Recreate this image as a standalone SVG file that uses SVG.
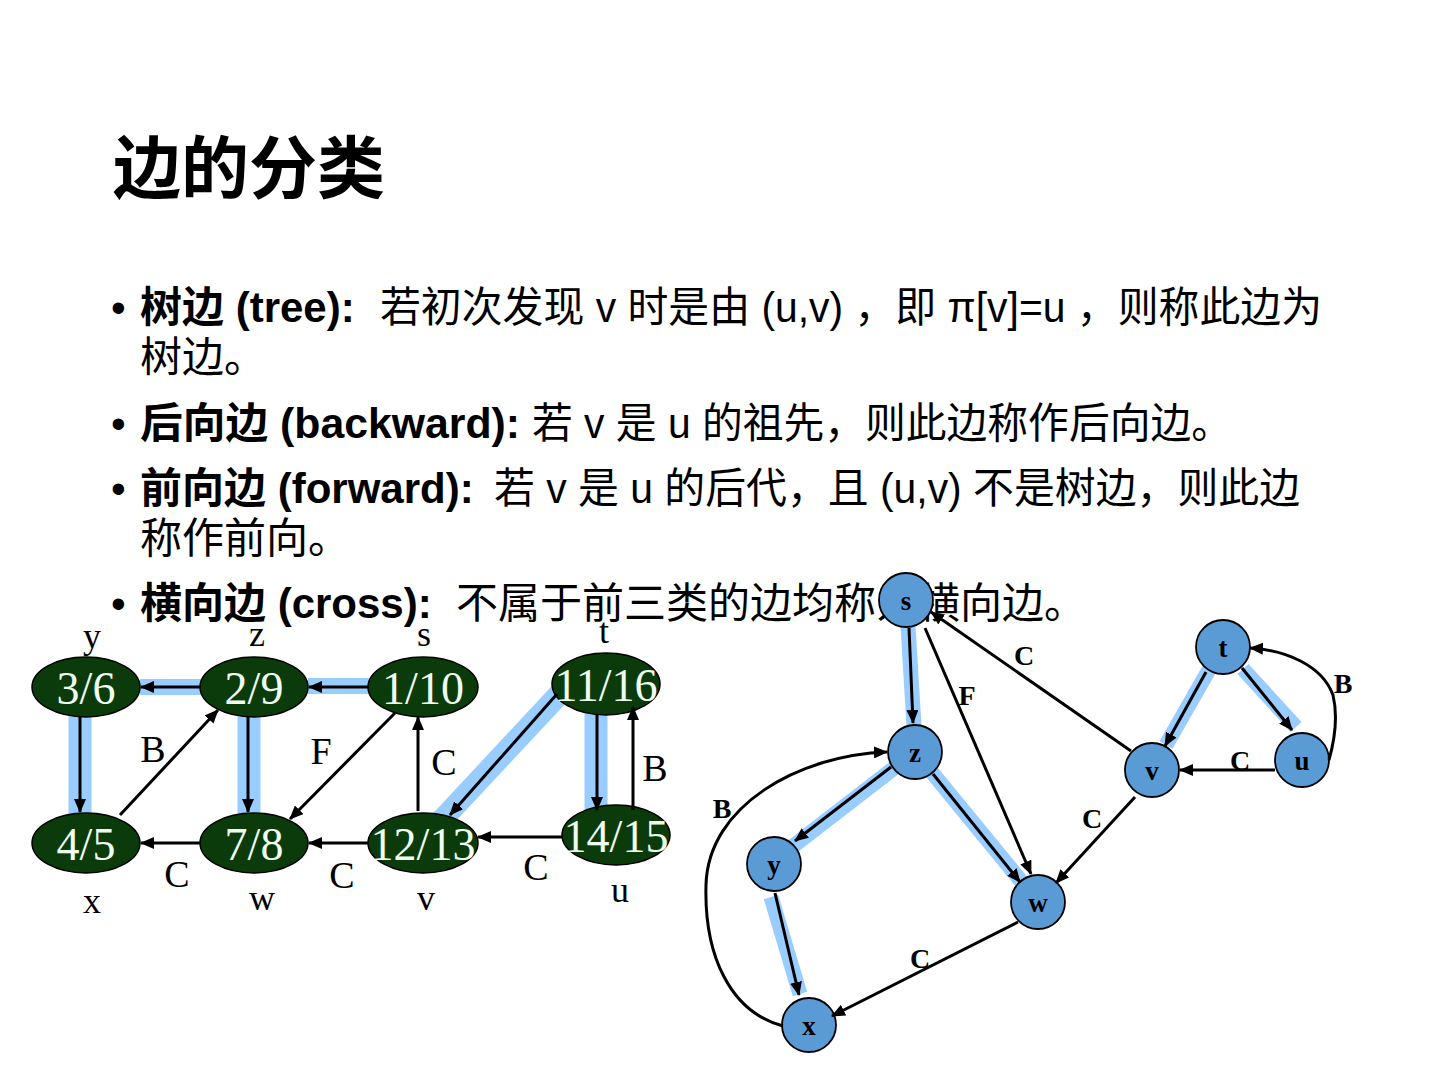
<svg xmlns="http://www.w3.org/2000/svg" width="1440" height="1080" viewBox="0 0 1440 1080">
<defs>
<style>
.title{font-family:"Liberation Sans","Noto Sans CJK SC",sans-serif;font-size:68px;font-weight:bold;fill:#000}
.body{font-family:"Liberation Sans","Noto Sans CJK SC",sans-serif;font-size:42px;fill:#000}
.b{font-weight:bold}
.hl{stroke:#99CCFF;fill:none;stroke-linecap:butt}
.e{stroke:#000;stroke-width:3;fill:none;marker-end:url(#ah)}
.el{fill:#0B3B0B;stroke:#000;stroke-width:1.5}
.et{font-family:"Liberation Serif",serif;font-size:46px;fill:#F0FFF0;text-anchor:middle}
.vl{font-family:"Liberation Serif",serif;font-size:36px;fill:#000;text-anchor:middle}
.lb{font-family:"Liberation Serif",serif;font-size:38px;fill:#000;text-anchor:middle}
.cn{fill:#5B9BD5;stroke:#000;stroke-width:1.8}
.ct{font-family:"Liberation Serif",serif;font-size:27px;font-weight:bold;fill:#000;text-anchor:middle}
.rl{font-family:"Liberation Serif",serif;font-size:28px;font-weight:bold;fill:#000;text-anchor:middle}
</style>
<marker id="ah" markerWidth="14" markerHeight="12" refX="13" refY="6" orient="auto" markerUnits="userSpaceOnUse">
<path d="M0,0 L14,6 L0,12 z" fill="#000"/>
</marker>
</defs>
<rect width="1440" height="1080" fill="#fff"/>

<g id="text">
<text class="title" x="113" y="193">边的分类</text>
<text class="body" x="111" y="322">•</text>
<text class="body b" x="140" y="322">树边 (tree):</text>
<text class="body" x="380" y="322" textLength="942" lengthAdjust="spacingAndGlyphs">若初次发现 v 时是由 (u,v) ，即 π[v]=u ，则称此边为</text>
<text class="body" x="140" y="372">树边。</text>
<text class="body" x="111" y="438">•</text>
<text class="body b" x="140" y="438" textLength="380" lengthAdjust="spacingAndGlyphs">后向边 (backward):</text>
<text class="body" x="532" y="438" textLength="700" lengthAdjust="spacingAndGlyphs">若 v 是 u 的祖先，则此边称作后向边。</text>
<text class="body" x="111" y="503">•</text>
<text class="body b" x="140" y="503">前向边 (forward):</text>
<text class="body" x="494" y="503" textLength="806" lengthAdjust="spacingAndGlyphs">若 v 是 u 的后代，且 (u,v) 不是树边，则此边</text>
<text class="body" x="140" y="553">称作前向。</text>
<text class="body" x="111" y="618">•</text>
<text class="body b" x="140" y="618">横向边 (cross):</text>
<text class="body" x="456" y="618">不属于前三类的边均称为横向边。</text>
</g>

<!-- Left graph -->
<g id="left-highlights">
<line class="hl" x1="140" y1="687" x2="202" y2="687" stroke-width="16"/>
<line class="hl" x1="308" y1="686" x2="370" y2="686" stroke-width="16"/>
<line class="hl" x1="80" y1="712" x2="80" y2="816" stroke-width="23"/>
<line class="hl" x1="249" y1="712" x2="249" y2="816" stroke-width="23"/>
<line class="hl" x1="565" y1="688" x2="440" y2="822" stroke-width="22"/>
<line class="hl" x1="596" y1="710" x2="596" y2="810" stroke-width="23"/>
</g>

<g id="node-y-left"><ellipse class="el" cx="86" cy="687" rx="54" ry="30"/><text class="et" x="86" y="704">3/6</text><text class="vl" x="92" y="648">y</text></g>
<g id="node-z-left"><ellipse class="el" cx="254" cy="687" rx="54" ry="30"/><text class="et" x="254" y="704">2/9</text><text class="vl" x="257" y="646">z</text></g>
<g id="node-s-left"><ellipse class="el" cx="423" cy="687" rx="55" ry="30"/><text class="et" x="423" y="704">1/10</text><text class="vl" x="424" y="646">s</text></g>
<g id="node-t-left"><ellipse class="el" cx="606" cy="684" rx="54" ry="31"/><text class="et" x="606" y="701">11/16</text><text class="vl" x="604" y="643">t</text></g>
<g id="node-x-left"><ellipse class="el" cx="86" cy="843" rx="54" ry="30"/><text class="et" x="86" y="860">4/5</text><text class="vl" x="92" y="913">x</text></g>
<g id="node-w-left"><ellipse class="el" cx="254" cy="843" rx="54" ry="30"/><text class="et" x="254" y="860">7/8</text><text class="vl" x="262" y="910">w</text></g>
<g id="node-v-left"><ellipse class="el" cx="423" cy="843" rx="55" ry="30"/><text class="et" x="423" y="860">12/13</text><text class="vl" x="426" y="910">v</text></g>
<g id="node-u-left"><ellipse class="el" cx="616" cy="835" rx="54" ry="30"/><text class="et" x="616" y="852">14/15</text><text class="vl" x="620" y="902">u</text></g>

<g id="connectors-left">
<line class="e" x1="200" y1="687" x2="141" y2="687"/>
<line class="e" x1="368" y1="687" x2="309" y2="687"/>
<line class="e" x1="80" y1="717" x2="80" y2="812"/>
<line class="e" x1="248" y1="717" x2="248" y2="812"/>
<line class="e" x1="120" y1="815" x2="218" y2="710"/>
<line class="e" x1="395" y1="713" x2="290" y2="819"/>
<line class="e" x1="200" y1="843" x2="141" y2="843"/>
<line class="e" x1="368" y1="843" x2="309" y2="843"/>
<line class="e" x1="418" y1="811" x2="418" y2="717"/>
<line class="e" x1="557" y1="694" x2="450" y2="815"/>
<line class="e" x1="597" y1="715" x2="597" y2="810"/>
<line class="e" x1="633" y1="810" x2="633" y2="707"/>
<line class="e" x1="562" y1="837" x2="478" y2="837"/>
<text class="lb" x="153" y="762">B</text>
<text class="lb" x="321" y="764">F</text>
<text class="lb" x="444" y="775">C</text>
<text class="lb" x="655" y="781">B</text>
<text class="lb" x="177" y="887">C</text>
<text class="lb" x="342" y="888">C</text>
<text class="lb" x="536" y="880">C</text>
</g>

<!-- Right graph -->
<g id="right-highlights">
<line class="hl" x1="908" y1="626" x2="914" y2="726" stroke-width="15"/>
<line class="hl" x1="898" y1="765" x2="788" y2="850" stroke-width="15"/>
<line class="hl" x1="930" y1="770" x2="1025" y2="886" stroke-width="15"/>
<line class="hl" x1="771" y1="897" x2="800" y2="994" stroke-width="15"/>
<line class="hl" x1="1210" y1="668" x2="1166" y2="745" stroke-width="15"/>
<line class="hl" x1="1243" y1="669" x2="1296" y2="727" stroke-width="15"/>
</g>

<g id="node-s"><circle class="cn" cx="906" cy="600" r="27"/><text class="ct" x="906" y="610">s</text></g>
<g id="node-z"><circle class="cn" cx="915" cy="752" r="27"/><text class="ct" x="915" y="762">z</text></g>
<g id="node-y"><circle class="cn" cx="774" cy="864" r="27"/><text class="ct" x="774" y="874">y</text></g>
<g id="node-x"><circle class="cn" cx="809" cy="1025" r="27"/><text class="ct" x="809" y="1035">x</text></g>
<g id="node-w"><circle class="cn" cx="1038" cy="902" r="27"/><text class="ct" x="1038" y="912">w</text></g>
<g id="node-t"><circle class="cn" cx="1223" cy="647" r="27"/><text class="ct" x="1223" y="657">t</text></g>
<g id="node-u"><circle class="cn" cx="1302" cy="760" r="27"/><text class="ct" x="1302" y="770">u</text></g>
<g id="node-v"><circle class="cn" cx="1152" cy="770" r="27"/><text class="ct" x="1152" y="780">v</text></g>

<g id="connectors-right">
<line class="e" x1="909" y1="628" x2="913" y2="723"/>
<line class="e" x1="925" y1="628" x2="1031" y2="874"/>
<line class="e" x1="1131" y1="751" x2="931" y2="612"/>
<line class="e" x1="1135" y1="797" x2="1056" y2="883"/>
<line class="e" x1="891" y1="767" x2="795" y2="841"/>
<line class="e" x1="933" y1="774" x2="1020" y2="882"/>
<line class="e" x1="775" y1="893" x2="799" y2="995"/>
<line class="e" x1="1018" y1="922" x2="832" y2="1016"/>
<path class="e" d="M783,1026 C730,1012 704,955 706,885 C708,805 800,755 887,752"/>
<line class="e" x1="1206" y1="672" x2="1165" y2="746"/>
<line class="e" x1="1242" y1="668" x2="1292" y2="730"/>
<line class="e" x1="1275" y1="770" x2="1180" y2="770"/>
<path class="e" d="M1329,760 C1336,735 1337,712 1333,695 C1322,665 1285,650 1250,648"/>
<text class="rl" x="1024" y="665">C</text>
<text class="rl" x="967" y="705">F</text>
<text class="rl" x="1343" y="693">B</text>
<text class="rl" x="1240" y="770">C</text>
<text class="rl" x="722" y="818">B</text>
<text class="rl" x="1092" y="828">C</text>
<text class="rl" x="920" y="968">C</text>
</g>
</svg>
